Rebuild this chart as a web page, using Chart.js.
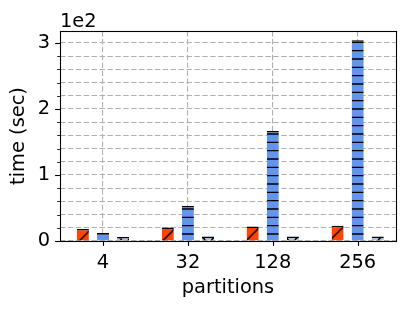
<!DOCTYPE html>
<html>
<head>
<meta charset="utf-8">
<script src="https://cdn.jsdelivr.net/npm/chart.js@4.4.0/dist/chart.umd.min.js"></script>
<style>
  html, body { margin: 0; padding: 0; background: #fff; }
</style>
</head>
<body>
<canvas id="chart" width="408" height="309"></canvas>
<script>
// values are in units of 1e2 seconds
const partitions = ["4", "32", "128", "256"];
const seriesOrange = [0.18, 0.205, 0.22, 0.23];
const seriesBlue = [0.12, 0.53, 1.665, 3.04];
const seriesLight = [0.06, 0.07, 0.07, 0.07];
const yMajorTicks = [0, 1, 2, 3];
const yMinorStep = 0.2;

const FONT = "DejaVu Sans";
Chart.defaults.font.family = FONT;
Chart.defaults.font.size = 19.4;
Chart.defaults.color = "#000";

// hatch tiles, 100px like matplotlib's 72pt hatch unit, aligned to the canvas bottom
function makeHatch(fill, dx, draw) {
  const c = document.createElement("canvas");
  c.width = 100;
  c.height = 100;
  const g = c.getContext("2d");
  g.fillStyle = fill;
  g.fillRect(0, 0, 100, 100);
  g.strokeStyle = "#000";
  g.lineWidth = 1.39;
  draw(g);
  const p = g.createPattern(c, "repeat");
  p.setTransform(new DOMMatrix().translate(dx, 309 % 100));
  return p;
}

const hatchSlash = makeHatch("#ff4500", -5.5, (g) => {
  for (let k = -12; k <= 12; k++) {
    const c = (k * 100) / 6;
    g.beginPath();
    g.moveTo(c - 10, 110);
    g.lineTo(c + 110, -10);
    g.stroke();
  }
});

const hatchDash = makeHatch("#6495ed", 0, (g) => {
  for (let k = 0; k <= 12; k++) {
    const yy = 100 - (k * 100) / 12;
    g.beginPath();
    g.moveTo(0, yy);
    g.lineTo(100, yy);
    g.stroke();
  }
});

const hatchCircle = makeHatch("#b0c4de", 0, (g) => {
  g.lineWidth = 1.6;
  const step = 100 / 6;
  for (let r = 0; r <= 6; r++) {
    const yy = 100 - r * step;
    const cols = r % 2 === 0 ? [0, 1, 2, 3, 4, 5, 6].map((i) => i * step)
                             : [0, 1, 2, 3, 4, 5].map((i) => step / 2 + i * step);
    cols.forEach((xx) => {
      g.beginPath();
      g.arc(xx, yy, 5.5, 0, Math.PI * 2);
      g.stroke();
    });
  }
});

const toPoints = (arr) => arr.map((v, i) => ({ x: i, y: v }));

const isMajor = (v) => Math.abs(v - Math.round(v)) < 1e-6;

const framePlugin = {
  id: "frame",
  afterDraw: (chart) => {
    const { ctx, chartArea: a, scales } = chart;
    const x = scales.x;
    const y = scales.y;
    ctx.save();
    ctx.strokeStyle = "#000";

    // y tick marks (major and minor)
    y.ticks.forEach((t) => {
      const py = Math.round(y.getPixelForValue(t.value)) + 0.5;
      const len = isMajor(t.value) ? 4.9 : 2.8;
      ctx.lineWidth = isMajor(t.value) ? 1.1 : 0.85;
      ctx.beginPath();
      ctx.moveTo(a.left - len, py);
      ctx.lineTo(a.left, py);
      ctx.stroke();
    });

    // x tick marks
    ctx.lineWidth = 1.1;
    x.ticks.forEach((t) => {
      const px = Math.round(x.getPixelForValue(t.value)) + 0.5;
      ctx.beginPath();
      ctx.moveTo(px, a.bottom);
      ctx.lineTo(px, a.bottom + 4.9);
      ctx.stroke();
    });

    // box around the plot
    ctx.lineWidth = 1.1;
    ctx.strokeRect(Math.round(a.left) + 0.5, Math.round(a.top) + 0.5,
      Math.round(a.right - a.left), Math.round(a.bottom - a.top));

    // offset text
    ctx.fillStyle = "#000";
    ctx.font = "19.4px " + FONT;
    ctx.textAlign = "left";
    ctx.textBaseline = "alphabetic";
    ctx.fillText("1e2", a.left, a.top - 4.5);
    ctx.restore();
  },
};

const barStyle = {
  borderColor: "#000",
  borderWidth: { top: 1.5, left: 0, right: 0, bottom: 0 },
  categoryPercentage: 0.71,
  barPercentage: 0.6,
};

new Chart(document.getElementById("chart"), {
  type: "bar",
  data: {
    datasets: [
      { label: "a", data: toPoints(seriesOrange), backgroundColor: hatchSlash, ...barStyle },
      { label: "b", data: toPoints(seriesBlue), backgroundColor: hatchDash, ...barStyle },
      { label: "c", data: toPoints(seriesLight), backgroundColor: hatchCircle, ...barStyle },
    ],
  },
  options: {
    responsive: false,
    animation: false,
    devicePixelRatio: 1,
    layout: { padding: { left: 0, right: 12, top: 31, bottom: 0 } },
    plugins: {
      legend: { display: false },
      tooltip: { enabled: false },
    },
    scales: {
      x: {
        type: "linear",
        min: -0.506,
        max: 3.451,
        offset: false,
        afterFit: (scale) => {
          scale.height = 68;
        },
        afterBuildTicks: (scale) => {
          scale.ticks = partitions.map((_, i) => ({ value: i }));
        },
        grid: {
          color: "#b0b0b0",
          lineWidth: 1.1,
          drawTicks: false,
          offset: false,
        },
        border: { display: false, dash: [5.5, 2.4] },
        ticks: {
          padding: 10,
          maxRotation: 0,
          autoSkip: false,
          callback: (v) => partitions[v] ?? "",
        },
        title: {
          display: true,
          text: "partitions",
          padding: { top: 0, bottom: 9 },
        },
      },
      y: {
        min: 0,
        max: 3.18,
        afterFit: (scale) => {
          scale.width = 60;
        },
        afterBuildTicks: (scale) => {
          const top = yMajorTicks[yMajorTicks.length - 1];
          const ticks = [];
          for (let k = 0; k * yMinorStep <= top + 1e-9; k++) {
            ticks.push({ value: k * yMinorStep });
          }
          scale.ticks = ticks;
        },
        grid: {
          color: "#b0b0b0",
          lineWidth: 1.1,
          drawTicks: false,
        },
        border: { display: false, dash: [5.5, 2.4] },
        ticks: {
          padding: 10,
          autoSkip: false,
          callback: (v) => {
            const r = Math.round(v);
            return isMajor(v) && yMajorTicks.includes(r) ? String(r) : "";
          },
        },
        title: {
          display: true,
          text: "time (sec)",
          padding: { top: 7, bottom: 0 },
        },
      },
    },
  },
  plugins: [framePlugin],
});
</script>
</body>
</html>
